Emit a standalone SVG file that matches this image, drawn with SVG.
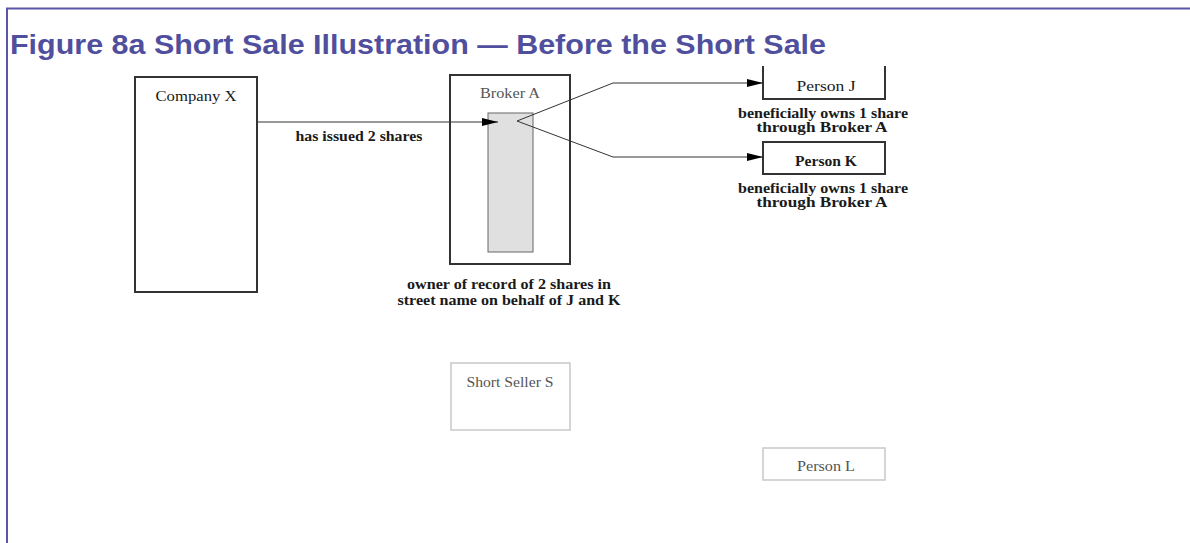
<svg xmlns="http://www.w3.org/2000/svg" width="1190" height="543" viewBox="0 0 1190 543">
<defs>
<style>
.frame{stroke:#5a55a8;stroke-width:2;fill:none}
.title{font-family:"Liberation Sans",Arial,sans-serif;font-weight:bold;font-size:28px;fill:#4f4f9e}
.t{font-family:"Liberation Serif","Times New Roman",serif;font-size:14px;fill:#1a1a1a;text-anchor:middle}
.b{font-weight:bold}
.g{fill:#555}
.box{fill:#fff;stroke:#333;stroke-width:2}
.lbox{fill:#fff;stroke:#c8c8c8;stroke-width:1.5}
.conn{fill:none;stroke:#333;stroke-width:1}
</style>
<marker id="ah" markerWidth="16" markerHeight="8" refX="16" refY="4" orient="auto" markerUnits="userSpaceOnUse">
<path d="M0,0 L16,4 L0,8 Z" fill="#000"/>
</marker>
</defs>
<rect width="1190" height="543" fill="#fff"/>
<path class="frame" d="M7,543 V8.5 H1190"/>
<text class="title" x="10" y="54" textLength="816" lengthAdjust="spacingAndGlyphs">Figure 8a Short Sale Illustration — Before the Short Sale</text>

<g id="company-x">
<rect class="box" x="135" y="77" width="122" height="215"/>
<text class="t" x="196" y="101" textLength="81" lengthAdjust="spacingAndGlyphs">Company X</text>
</g>
<g id="broker-a">
<rect class="box" x="450" y="75" width="120" height="189"/>
<text class="t g" x="510" y="98" textLength="60" lengthAdjust="spacingAndGlyphs">Broker A</text>
<rect x="488" y="113" width="45" height="139" fill="#e0e0e0" stroke="#666" stroke-width="1"/>
<text class="t b" x="509" y="289" textLength="204" lengthAdjust="spacingAndGlyphs">owner of record of 2 shares in</text>
<text class="t b" x="509" y="305" textLength="223" lengthAdjust="spacingAndGlyphs">street name on behalf of J and K</text>
</g>
<g id="person-j">
<path d="M763,66 V99 H885 V66" fill="#fff" stroke="#333" stroke-width="2"/>
<text class="t" x="826" y="91" textLength="59" lengthAdjust="spacingAndGlyphs">Person J</text>
<text class="t b" x="823" y="118" textLength="170" lengthAdjust="spacingAndGlyphs">beneficially owns 1 share</text>
<text class="t b" x="822" y="132" textLength="131" lengthAdjust="spacingAndGlyphs">through Broker A</text>
</g>
<g id="person-k">
<rect class="box" x="763" y="142" width="122" height="32"/>
<text class="t b" x="826" y="166" textLength="62" lengthAdjust="spacingAndGlyphs">Person K</text>
<text class="t b" x="823" y="193" textLength="170" lengthAdjust="spacingAndGlyphs">beneficially owns 1 share</text>
<text class="t b" x="822" y="207" textLength="131" lengthAdjust="spacingAndGlyphs">through Broker A</text>
</g>
<g id="short-seller-s">
<rect class="lbox" x="451" y="363" width="119" height="67"/>
<text class="t g" x="510" y="387" textLength="87" lengthAdjust="spacingAndGlyphs">Short Seller S</text>
</g>
<g id="person-l">
<rect class="lbox" x="763" y="448" width="122" height="32"/>
<text class="t g" x="826" y="471" textLength="58" lengthAdjust="spacingAndGlyphs">Person L</text>
</g>
<g id="connectors">
<path class="conn" d="M257,122 H498" stroke="#777" marker-end="url(#ah)"/>
<text class="t b" x="359" y="141" textLength="127" lengthAdjust="spacingAndGlyphs">has issued 2 shares</text>
<path class="conn" d="M517,121 L613,83 H763" marker-end="url(#ah)"/>
<path class="conn" d="M517,121 L613,157 H763" marker-end="url(#ah)"/>
</g>
</svg>
